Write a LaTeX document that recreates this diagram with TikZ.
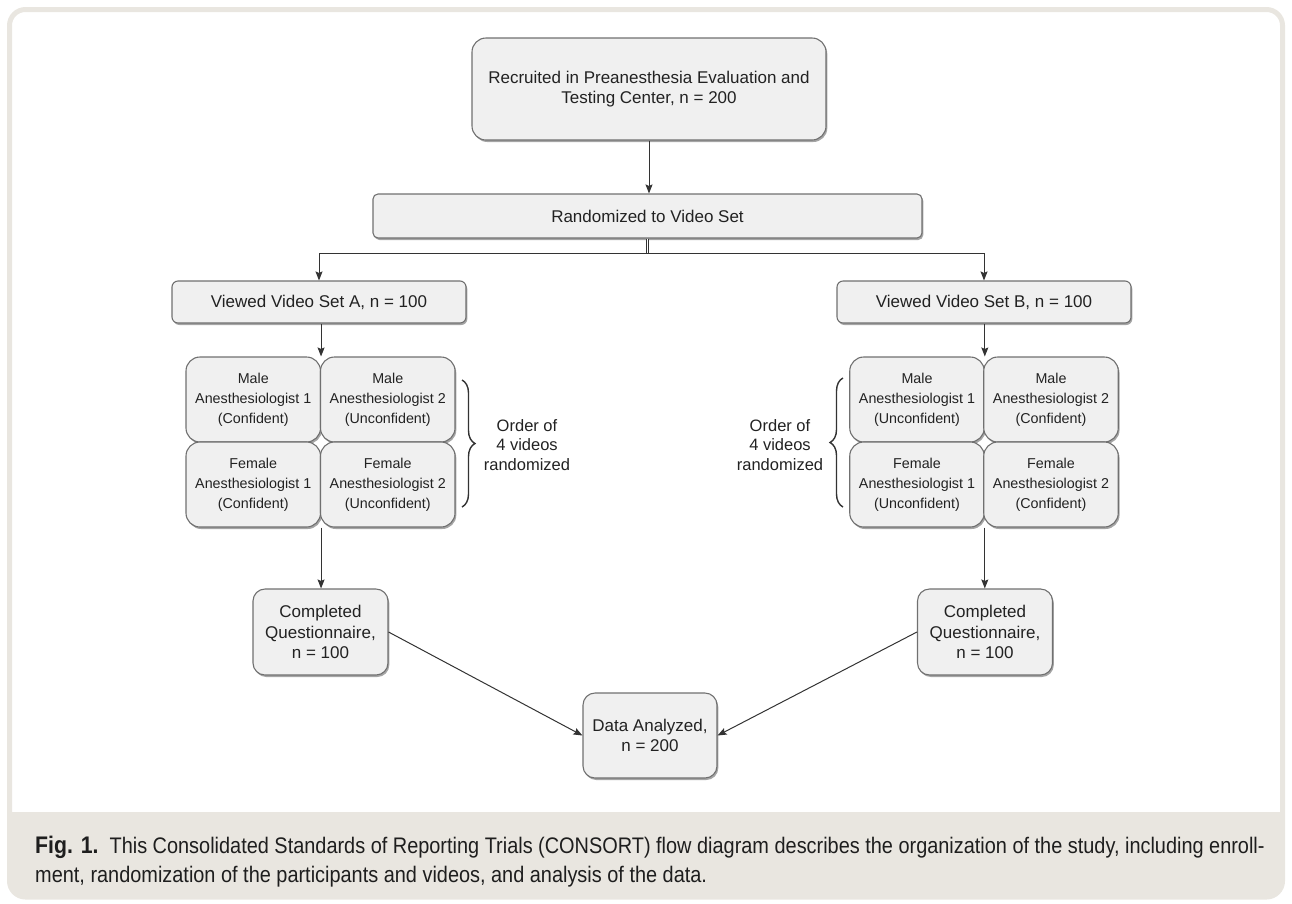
\documentclass[tikz,border=0pt]{standalone}
\usepackage{fontspec}
\setmainfont{Liberation Sans}
\newfontfamily\capfont[FakeStretch=0.885]{Liberation Sans}
\usetikzlibrary{arrows.meta,shadows,decorations.pathreplacing}
\definecolor{framec}{HTML}{E9E6E0}
\definecolor{boxfill}{HTML}{F0F0F0}
\definecolor{boxline}{HTML}{707070}
\definecolor{linec}{HTML}{333333}
\definecolor{txt}{HTML}{222222}
\definecolor{captxt}{HTML}{1E1E1E}
\definecolor{shadowc}{HTML}{A5A5A5}
\begin{document}
\begin{tikzpicture}[x=1pt,y=-1pt,
  box/.style={draw=boxline, fill=boxfill, line width=1.1pt, align=center, inner sep=0pt, text=txt,
    drop shadow={shadow xshift=1.3pt, shadow yshift=-2pt, fill=shadowc, opacity=1}},
  bigtxt/.style={font=\fontsize{17}{20.5}\selectfont},
  celltxt/.style={font=\fontsize{14.3}{20}\selectfont},
  cell/.style={box, celltxt, rounded corners=14pt, minimum width=134.5pt, minimum height=85pt},
  arr/.style={draw=linec, line width=1pt, -{Stealth[length=9pt,width=7pt,inset=1.5pt]}},
  bracestyle/.style={draw=linec, line width=1.4pt, decorate, decoration={brace, amplitude=13pt}},
  lbl/.style={align=center, text=txt, font=\fontsize{16.5}{19.5}\selectfont, inner sep=0pt},
  captext/.style={anchor=base west, inner sep=0pt, text=captxt, font=\capfont\fontsize{22.5}{29}\selectfont}
]
\useasboundingbox (0,0) rectangle (1292,903);
% frame and caption band
\fill[framec, rounded corners=16pt] (9.5,780) rectangle (1282.5,897);
\fill[white] (12,770) rectangle (1280,812);
\draw[framec, line width=5pt, rounded corners=16pt] (9.5,9.5) rectangle (1282.5,897);

% top boxes
\node[box, bigtxt, rounded corners=14pt, minimum width=354pt, minimum height=102pt] (top) at (649,89)
  {Recruited in Preanesthesia Evaluation and\\Testing Center, n = 200};
\node[box, bigtxt, rounded corners=5pt, minimum width=549pt, minimum height=44pt] (rand) at (647.5,216)
  {Randomized to Video Set};
\node[box, bigtxt, rounded corners=6pt, minimum width=294pt, minimum height=42pt] (viewA) at (319,302)
  {Viewed Video Set A, n = 100};
\node[box, bigtxt, rounded corners=6pt, minimum width=294pt, minimum height=42pt] (viewB) at (984,302)
  {Viewed Video Set B, n = 100};

% left grid
\node[cell] (a11) at (253.25,399.5) {Male\\Anesthesiologist 1\\(Confident)};
\node[cell] (a12) at (387.75,399.5) {Male\\Anesthesiologist 2\\(Unconfident)};
\node[cell] (a21) at (253.25,484.5) {Female\\Anesthesiologist 1\\(Confident)};
\node[cell] (a22) at (387.75,484.5) {Female\\Anesthesiologist 2\\(Unconfident)};
% right grid
\node[cell] (b11) at (917,399.5) {Male\\Anesthesiologist 1\\(Unconfident)};
\node[cell] (b12) at (1051,399.5) {Male\\Anesthesiologist 2\\(Confident)};
\node[cell] (b21) at (917,484.5) {Female\\Anesthesiologist 1\\(Unconfident)};
\node[cell] (b22) at (1051,484.5) {Female\\Anesthesiologist 2\\(Confident)};

% completed & data
\node[box, bigtxt, rounded corners=12pt, minimum width=135pt, minimum height=86pt] (compA) at (320.5,632)
  {Completed\\Questionnaire,\\n = 100};
\node[box, bigtxt, rounded corners=12pt, minimum width=135pt, minimum height=86pt] (compB) at (985,632)
  {Completed\\Questionnaire,\\n = 100};
\node[box, bigtxt, rounded corners=12pt, minimum width=134pt, minimum height=85pt] (data) at (650,735.5)
  {Data Analyzed,\\n = 200};

% braces and labels
\coordinate (braLt) at (462,380);
\coordinate (braLb) at (462,507);
\coordinate (braRt) at (843,378);
\coordinate (braRb) at (843,507);
\draw[bracestyle] (braLt) -- (braLb);
\draw[bracestyle] (braRb) -- (braRt);
\node[lbl] (ordA) at (527,445) {Order of\\4 videos\\randomized};
\node[lbl] (ordB) at (780,445) {Order of\\4 videos\\randomized};

% connectors
\draw[arr] (top.south) -- (top.south |- rand.north);
\coordinate (j) at (647.5,253);
\draw[draw=linec, line width=0.7pt, double=white, double distance=1.6pt] (rand.south) -- (j);
\draw[arr] (j) -| (viewA.north);
\draw[arr] (j) -| (viewB.north);
\draw[arr] (viewA.south -| a11.north east) -- (a11.north east);
\draw[arr] (viewB.south -| b11.north east) -- (b11.north east);
\draw[arr] (a21.south east) -- (a21.south east |- compA.north);
\draw[arr] (b21.south east) -- (b21.south east |- compB.north);
\draw[arr] (compA.east) -- (data.west);
\draw[arr] (compB.west) -- (data.east);

% caption
\node[captext] (cap1) at (35,853)
  {{\fontsize{24}{29}\selectfont\bfseries Fig. 1.}\ \ This Consolidated Standards of Reporting Trials (CONSORT) flow diagram describes the organization of the study, including enroll-};
\node[captext] (cap2) at (35,882)
  {ment, randomization of the participants and videos, and analysis of the data.};
\end{tikzpicture}
\end{document}
